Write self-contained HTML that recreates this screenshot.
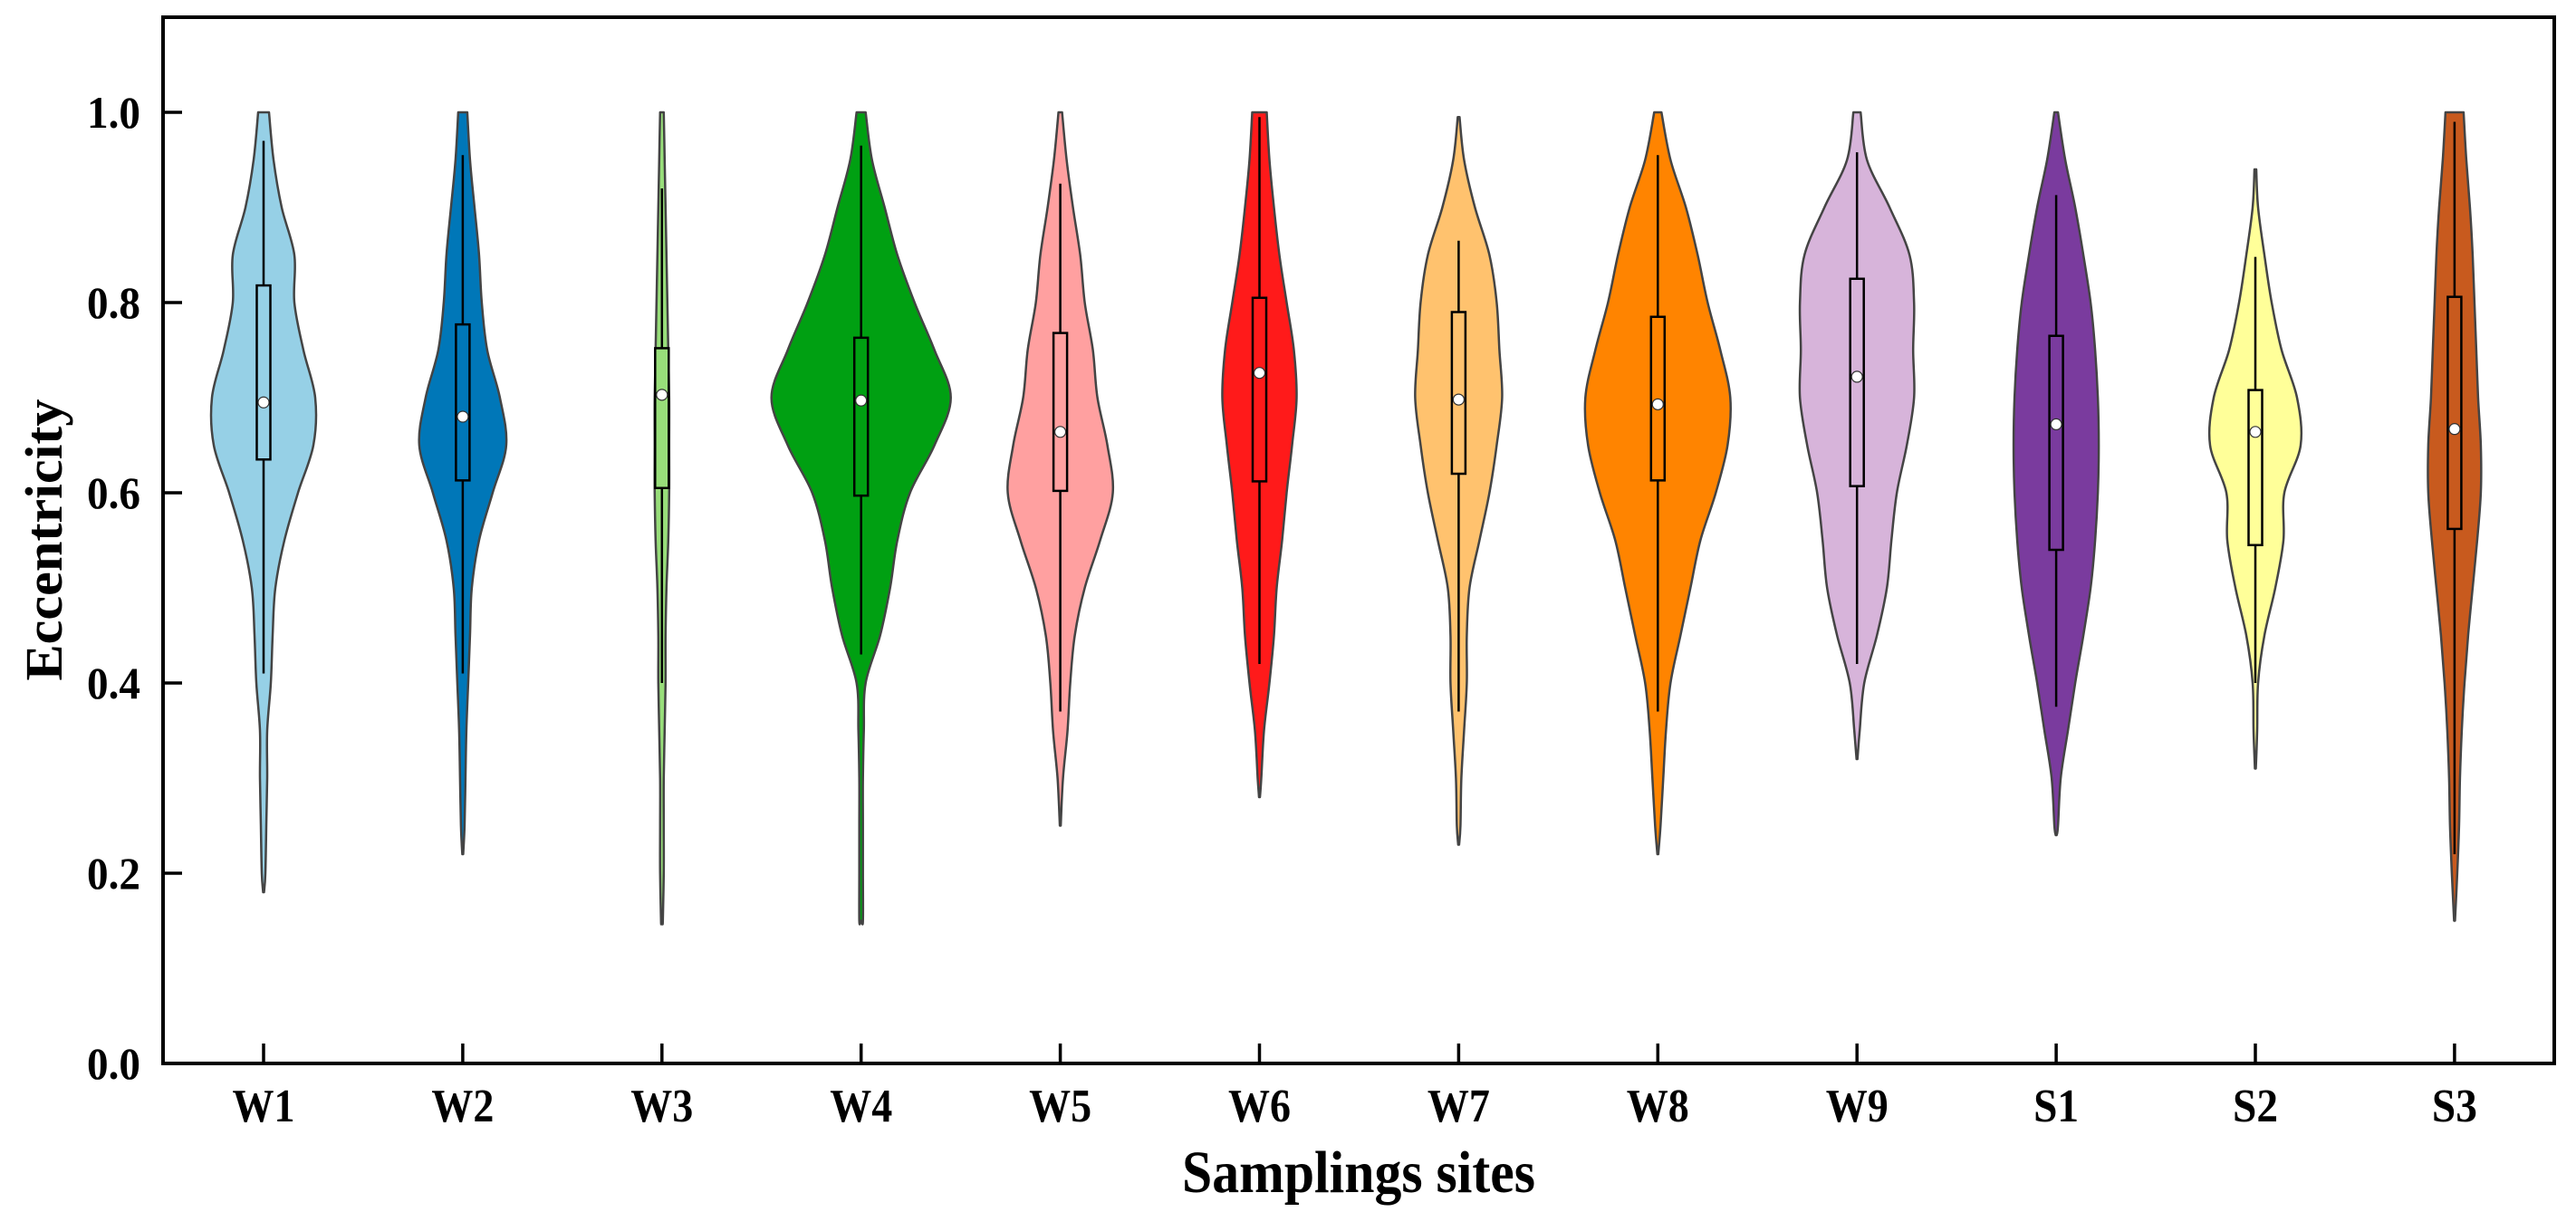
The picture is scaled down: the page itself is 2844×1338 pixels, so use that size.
<!DOCTYPE html>
<html><head><meta charset="utf-8"><style>
html,body{margin:0;padding:0;background:#fff;}
svg{display:block;}
text{font-family:"Liberation Serif",serif;font-weight:bold;fill:#000;}
</style></head><body>
<svg id="chart" width="2844" height="1338" viewBox="0 0 2844 1338" xmlns="http://www.w3.org/2000/svg">
<rect x="0" y="0" width="2844" height="1338" fill="#fff"/>
<g id="violins"></g>
<g id="axes"></g>
</svg>
<script>
const categories = ["W1","W2","W3","W4","W5","W6","W7","W8","W9","S1","S2","S3"];
const colors = ["#96d0e6","#0077b8","#98de7a","#00a012","#ffa0a0","#ff1a1a","#ffc26e","#ff8400","#d7b4da","#7a3b9e","#ffff99","#c85a1e"];
// density grid levels (1.0 down by 0.05)
const densityLevels = [1.0,0.95,0.9,0.85,0.8,0.75,0.7,0.65,0.6,0.55,0.5,0.45,0.4,0.35,0.3,0.25,0.2,0.15];
const densW1 = [6,11,20,34,34,44,57,55,38,23,13,10,8,4,4,3,2];
const densW2 = [5,8,13,18,21,27,41,48,33,18,10,8,6,4,3,2];
const densW3 = [2,3,4,5,6,7,8,8,8,7,5,4,4,3,2,2,2,1];
const densW4 = [5,12,26,40,59,81,99,81,54,40,32,21,5,3,2,2,2,2];
const densW5 = [2,7,14,22,27,36,41,52,58,44,27,16,11,8,3];
const densW6 = [8,11,16,22,30,38,41,36,30,25,19,16,11,5,2];
const densW7 = [1,6,18,34,42,45,48,42,34,23,12,9,9,6,3,2];
const densW8 = [4,14,31,44,55,69,80,77,64,47,36,25,14,9,6,3];
const densW9 = [4,11,36,58,63,62,63,55,44,38,33,22,8,3];
const densS1 = [2,10,21,30,38,43,46,47,46,43,38,30,21,13,5,2];
const densS2 = [0,0,3,10,18,29,46,50,32,31,22,10,3,2];
const densS3 = [10,13,17,20,22,24,26,29,29,25,20,15,11,8,6,5,3];
const densities = [densW1,densW2,densW3,densW4,densW5,densW6,densW7,densW8,densW9,densS1,densS2,densS3];
const minValues = [0.18,0.22,0.15,0.15,0.25,0.28,0.23,0.22,0.32,0.24,0.31,0.15];
const maxValues = [1.0,1.0,1.0,1.0,1.0,1.0,0.995,1.0,1.0,1.0,0.94,1.0];
const q1Values = [0.635,0.613,0.605,0.597,0.602,0.612,0.62,0.613,0.607,0.54,0.545,0.562];
const q3Values = [0.818,0.777,0.752,0.763,0.768,0.805,0.79,0.785,0.825,0.765,0.708,0.806];
const medianValues = [0.695,0.68,0.703,0.697,0.664,0.726,0.698,0.693,0.722,0.672,0.664,0.667];
const whiskerLow = [0.41,0.41,0.40,0.43,0.37,0.42,0.37,0.37,0.42,0.375,0.40,0.22];
const whiskerHigh = [0.97,0.955,0.92,0.965,0.925,0.995,0.865,0.955,0.958,0.913,0.848,0.99];
const yTicks = [0.0,0.2,0.4,0.6,0.8,1.0];
const yTickLabels = ["0.0","0.2","0.4","0.6","0.8","1.0"];

const NS="http://www.w3.org/2000/svg";
const L=180,R=2820,T=19,B=1174;
const yMin=0,yMax=1.1;
function yScale(v){return B-(v-yMin)/(yMax-yMin)*(B-T);}
const x0=291,step=219.9;
function xScale(i){return x0+i*step;}
function mk(tag,attrs,parent){const e=document.createElementNS(NS,tag);for(const k in attrs)e.setAttribute(k,attrs[k]);parent.appendChild(e);return e;}
function smooth(pts){
  let d="M"+pts[0][0]+","+pts[0][1];
  for(let i=0;i<pts.length-1;i++){
    const p0=pts[Math.max(0,i-1)],p1=pts[i],p2=pts[i+1],p3=pts[Math.min(pts.length-1,i+2)];
    const c1=[p1[0]+(p2[0]-p0[0])/6,p1[1]+(p2[1]-p0[1])/6];
    const c2=[p2[0]-(p3[0]-p1[0])/6,p2[1]-(p3[1]-p1[1])/6];
    d+=" C"+c1[0].toFixed(1)+","+c1[1].toFixed(1)+" "+c2[0].toFixed(1)+","+c2[1].toFixed(1)+" "+p2[0].toFixed(1)+","+p2[1].toFixed(1);
  }
  return d;
}
const vg=document.getElementById("violins");
categories.forEach((c,i)=>{
  const cx=xScale(i);
  const dens=densities[i];
  const prof=[];
  const top=maxValues[i];
  for(let k=0;k<dens.length;k++){
    let v=densityLevels[k];
    if(v>top) continue;
    if(v<minValues[i]) break;
    prof.push([v,dens[k]]);
  }
  if(prof.length===0||prof[0][0]<top) prof.unshift([top,1]);
  prof.push([minValues[i],0.5]);
  const right=prof.map(p=>[cx+p[1],yScale(p[0])]);
  const left=prof.slice().reverse().map(p=>[cx-p[1],yScale(p[0])]);
  let d=smooth(right);
  d+=" L"+left[0][0]+","+left[0][1]+smooth(left).replace(/^M[^ ]+/,"")+" Z";
  const g=mk("g",{},vg);
  
  
  const path=mk("path",{d:d,fill:colors[i],stroke:"#444","stroke-width":2.5,"stroke-linejoin":"round"},g);
  
  
  const wh=mk("line",{x1:cx,x2:cx,y1:yScale(whiskerHigh[i]),y2:yScale(whiskerLow[i]),stroke:"#000","stroke-width":2.5},g);
  
  
  const bx=mk("rect",{x:cx-7.5,y:yScale(q3Values[i]),width:15,height:yScale(q1Values[i])-yScale(q3Values[i]),fill:colors[i],stroke:"#000","stroke-width":2.5},g);
  
  
  const md=mk("circle",{cx:cx,cy:yScale(medianValues[i]),r:6,fill:"#fff",stroke:"#333","stroke-width":1.2},g);
  
  
});
const ag=document.getElementById("axes");
const frame=mk("rect",{x:L,y:T,width:R-L,height:B-T,fill:"none",stroke:"#000","stroke-width":4},ag);


yTicks.forEach((v,k)=>{
  const y=yScale(v);
  const t=mk("line",{x1:L,x2:L+21,y1:y,y2:y,stroke:"#000","stroke-width":3.5},ag);
  
  
  const lb=mk("text",{x:155,y:y+17,"text-anchor":"end","font-size":50,textLength:59,lengthAdjust:"spacingAndGlyphs"},ag);
  lb.textContent=yTickLabels[k];
  
  
});
categories.forEach((c,i)=>{
  const x=xScale(i);
  const t=mk("line",{x1:x,x2:x,y1:B,y2:B-22,stroke:"#000","stroke-width":3.5},ag);
  
  
  const tl=c.charAt(0)==="W"?69:50;
  const lb=mk("text",{x:x,y:1238,"text-anchor":"middle","font-size":52,textLength:tl,lengthAdjust:"spacingAndGlyphs"},ag);
  lb.textContent=c;
  
  
});
const xt=mk("text",{x:1500,y:1316,"text-anchor":"middle","font-size":66,textLength:390,lengthAdjust:"spacingAndGlyphs"},ag);
xt.textContent="Samplings sites";


const yt=mk("text",{x:0,y:0,"text-anchor":"middle","font-size":58,textLength:311,lengthAdjust:"spacingAndGlyphs",transform:"translate(68,596) rotate(-90)"},ag);
yt.textContent="Eccentricity";


</script>
</body></html>
